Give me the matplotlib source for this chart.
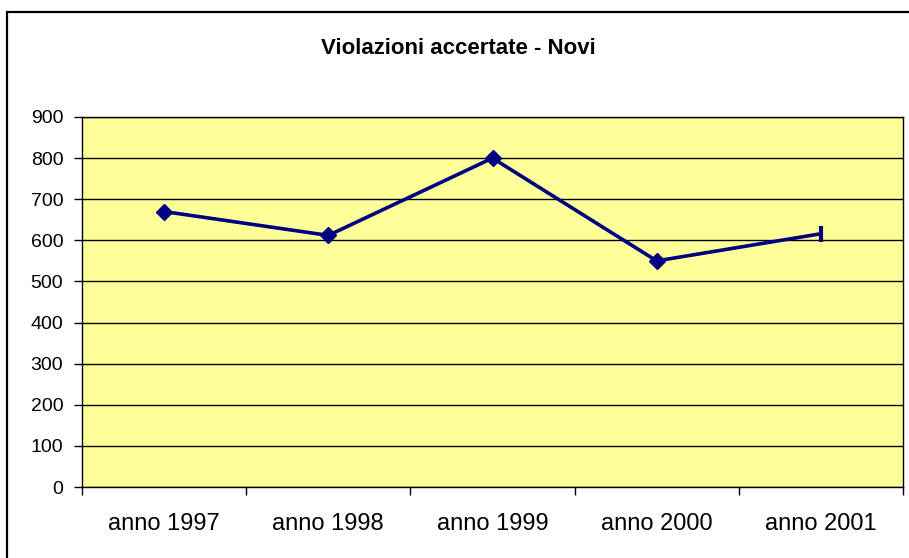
import matplotlib
matplotlib.use("Agg")
import matplotlib.pyplot as plt
from matplotlib.patches import Rectangle
from matplotlib.ticker import FixedLocator, NullFormatter

categories = ["anno 1997", "anno 1998", "anno 1999", "anno 2000", "anno 2001"]
values = [670, 612, 800, 550, 616]
y_ticks = [0, 100, 200, 300, 400, 500, 600, 700, 800, 900]
title = "Violazioni accertate - Novi"

plt.rcParams['font.family'] = ['Liberation Sans', 'DejaVu Sans']

W, H = 909, 558
fig = plt.figure(figsize=(W / 100, H / 100), dpi=100)
fig.patch.set_facecolor("white")

# chart border
fig.patches.append(Rectangle((7 / W, -0.1), 1.2, 1 - 12 / H + 0.1,
                             transform=fig.transFigure, fill=False,
                             edgecolor="black", lw=1.6, zorder=0))

ax = fig.add_axes([82 / W, 1 - 487 / H, (903 - 82) / W, (487 - 117) / H])
ax.set_facecolor("#FFFF99")

x = list(range(len(categories)))
ax.plot(x[:-1], values[:-1], color="#000080", lw=2.6, marker="D", ms=8.5,
        markerfacecolor="#000080", markeredgecolor="#000080", zorder=3)
ax.plot(x[-2:], values[-2:], color="#000080", lw=2.6, zorder=3)
ax.plot(x[-1:], values[-1:], color="#000080", lw=0, marker="|", ms=11, mew=3, zorder=3)

ax.set_xlim(-0.5, len(categories) - 0.5)
ax.set_ylim(0, 900)
ax.set_yticks(y_ticks)
ax.yaxis.grid(True, color="black", lw=1)
ax.set_axisbelow(True)

ax.xaxis.set_major_locator(FixedLocator([i - 0.5 for i in range(len(categories) + 1)]))
ax.xaxis.set_major_formatter(NullFormatter())
ax.xaxis.set_minor_locator(FixedLocator(x))
ax.set_xticklabels(categories, minor=True)
ax.tick_params(axis="x", which="major", direction="out", length=6, width=1, color="black")
ax.tick_params(axis="x", which="minor", length=0, pad=19, labelsize=17)
ax.tick_params(axis="y", direction="out", length=6, width=1, labelsize=14, pad=7.5)

for s in ax.spines.values():
    s.set_color("black")
    s.set_linewidth(1)

fig.text(0.5 * (7 / W + 1), 1 - 48.5 / H, title,
         ha="center", va="center", fontsize=16, fontweight="bold")

fig.savefig("out.png", dpi=100)
